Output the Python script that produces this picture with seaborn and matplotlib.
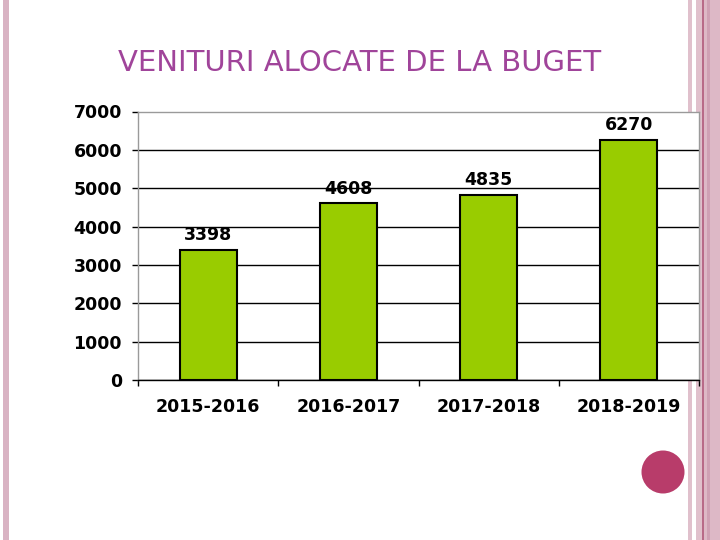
import matplotlib
matplotlib.use("Agg")
import matplotlib.pyplot as plt
import matplotlib.patches as mpatches
import seaborn as sns
import pandas as pd

PERIODS = ['2015-2016', '2016-2017', '2017-2018', '2018-2019']
VALUES = [3398, 4608, 4835, 6270]
Y_TICKS = [0, 1000, 2000, 3000, 4000, 5000, 6000, 7000]
TITLE = "VENITURI ALOCATE DE LA BUGET"

df = pd.DataFrame({"period": PERIODS, "value": VALUES})

sns.set_theme(style='white')
plt.rcParams['font.family'] = ['DejaVu Sans']
plt.rcParams['text.color'] = 'black'
plt.rcParams['xtick.color'] = 'black'
plt.rcParams['ytick.color'] = 'black'

fig = plt.figure(figsize=(7.2, 5.4), dpi=100)

# slide decoration (pink strips at the edges, dot in the corner)
def strip(x0, x1, color):
    fig.patches.append(mpatches.Rectangle((x0 / 720, 0), (x1 - x0) / 720, 1,
                                          transform=fig.transFigure, color=color,
                                          zorder=-1, lw=0))

strip(3, 9, '#d9b3c3')
strip(688, 692, '#e0c0cc')
strip(696, 702, '#e0c0cc')
strip(702, 703.5, '#b86a88')
strip(703.5, 720, '#ddb8c6')
strip(707, 709.5, '#cfa0b4')
fig.patches.append(mpatches.Circle((6.63, 0.68), 0.215, transform=fig.dpi_scale_trans,
                                   color='#b83c6a', lw=0, zorder=2))

fig.text(0.4993, 0.883, TITLE, ha='center', va='center', fontsize=21,
         color='#a0449a')

# chart
ax = fig.add_axes([138 / 720, 1 - 380 / 540, 561 / 720, 268.5 / 540])
ax.set_facecolor('white')
sns.barplot(data=df, x="period", y="value", color='#99cc00', saturation=1,
            edgecolor='black', linewidth=1.5, width=0.406, ax=ax, zorder=2)

ax.set_ylim(0, 7000)
ax.set_xlim(-0.5, 3.5)
ax.set_yticks(Y_TICKS)
ax.set_yticklabels([str(v) for v in Y_TICKS], fontsize=12.5, fontweight='bold')
ax.set_xticklabels(PERIODS, fontsize=12.5, fontweight='bold')
ax.set_xlabel("")
ax.set_ylabel("")

ax.yaxis.grid(True, color='black', linewidth=1)
ax.set_axisbelow(True)
ax.get_ygridlines()[-1].set_visible(False)

for side in ['top', 'left', 'right']:
    ax.spines[side].set_color('#9a9a9a')
    ax.spines[side].set_linewidth(1)
ax.spines['bottom'].set_color('black')
ax.spines['bottom'].set_linewidth(1)

ax.tick_params(axis='y', length=4, width=1, color='black', pad=7.5, left=True)
ax.set_xticks([-0.5, 0.5, 1.5, 2.5, 3.5], minor=True)
ax.tick_params(axis='x', which='major', length=0, pad=13, bottom=True)
ax.tick_params(axis='x', which='minor', length=4, width=1, color='black', bottom=True)

ax.bar_label(ax.containers[0], labels=[str(v) for v in VALUES], padding=4,
             fontsize=12.5, fontweight='bold', color='black', zorder=1)

fig.savefig('out.png', dpi=100, facecolor='white')
